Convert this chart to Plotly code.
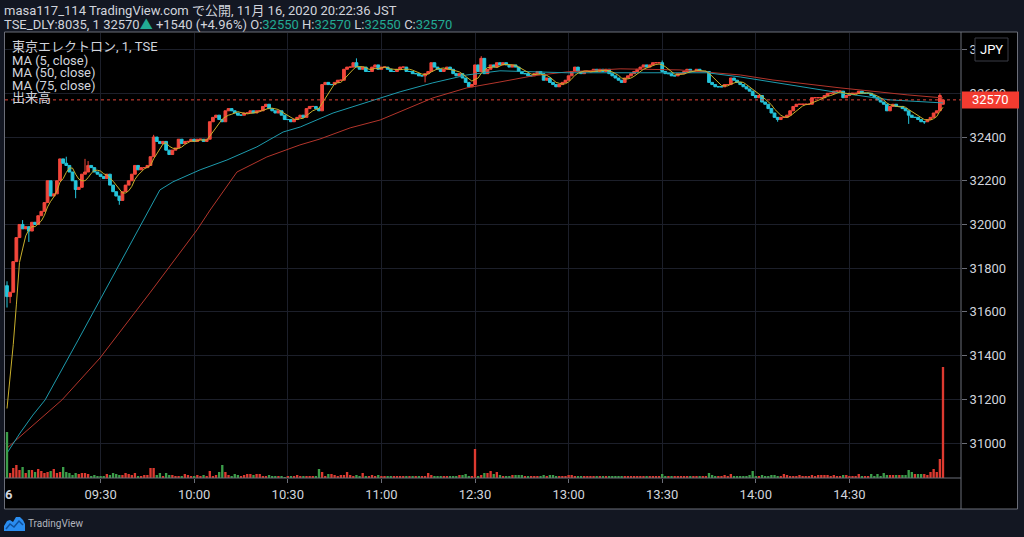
import plotly.graph_objects as go
import pandas as pd

# ---------------- data ----------------
prev_close = 31030          # previous day close (32570 - 1540)
first_open = 31720
last_open = 32550

closes_am = [  # 09:00 - 11:29
    31670, 31690, 31830, 31940, 32000, 31980, 31990, 31970, 32010, 32000,
    32040, 32060, 32100, 32200, 32130, 32140, 32200, 32300, 32280, 32270,
    32240, 32200, 32160, 32170, 32230, 32240, 32270, 32260, 32240, 32230,
    32220, 32210, 32230, 32180, 32150, 32130, 32110, 32150, 32180, 32200,
    32230, 32270, 32250, 32260, 32260, 32270, 32310, 32400, 32380, 32370,
    32380, 32340, 32320, 32340, 32350, 32390, 32370, 32380, 32380, 32390,
    32380, 32390, 32390, 32380, 32390, 32470, 32490, 32500, 32480, 32470,
    32520, 32530, 32520, 32510, 32500, 32500, 32510, 32510, 32520, 32510,
    32520, 32520, 32540, 32550, 32530, 32520, 32510, 32520, 32500, 32480,
    32480, 32470, 32480, 32490, 32500, 32490, 32530, 32540, 32540, 32530,
    32520, 32640, 32650, 32640, 32640, 32650, 32660, 32660, 32710, 32720,
    32720, 32740, 32720, 32710, 32720, 32700, 32700, 32720, 32730, 32710,
    32720, 32720, 32710, 32700, 32700, 32710, 32720, 32720, 32700, 32700,
    32690, 32690, 32680, 32680, 32690, 32700, 32740, 32720, 32710, 32700,
    32710, 32720, 32710, 32690, 32680, 32690, 32670, 32650, 32630, 32640,
]
closes_pm = [  # 12:30 - 15:00
    32730, 32700, 32760, 32690, 32710, 32730, 32720, 32740, 32730, 32740,
    32730, 32720, 32730, 32720, 32700, 32690, 32690, 32680, 32680, 32690,
    32700, 32690, 32660, 32670, 32650, 32640, 32630, 32640, 32650, 32660,
    32680, 32700, 32720, 32700, 32690, 32700, 32700, 32700, 32710, 32700,
    32710, 32700, 32710, 32690, 32680, 32670, 32660, 32650, 32670, 32680,
    32690, 32700, 32710, 32720, 32730, 32720, 32730, 32740, 32740, 32740,
    32700, 32690, 32690, 32680, 32680, 32690, 32690, 32700, 32710, 32700,
    32700, 32710, 32700, 32700, 32700, 32650, 32640, 32630, 32630, 32630,
    32640, 32640, 32670, 32660, 32650, 32640, 32630, 32620, 32610, 32590,
    32580, 32590, 32560, 32550, 32530, 32510, 32490, 32480, 32490, 32490,
    32500, 32520, 32540, 32550, 32550, 32550, 32550, 32550, 32580, 32580,
    32580, 32580, 32590, 32600, 32600, 32610, 32610, 32610, 32580, 32590,
    32600, 32600, 32600, 32610, 32600, 32600, 32600, 32590, 32580, 32570,
    32560, 32550, 32520, 32540, 32550, 32540, 32540, 32530, 32520, 32500,
    32490, 32490, 32480, 32470, 32470, 32480, 32490, 32510, 32520, 32590,
    32570,
]
wick_highs = {0: 31740, 5: 32020, 19: 32310, 25: 32300, 26: 32290, 47: 32410,
              112: 32760, 152: 32770, 210: 32750, 299: 32600}
wick_lows = {0: 31620, 1: 31640, 7: 31920, 22: 32120, 36: 32090, 134: 32650,
             247: 32470, 289: 32460, 294: 32460}

volume = [  # thousand shares
    46, 5, 10, 13, 8, 11, 5, 8, 8, 6, 9, 7, 5, 6, 7, 9, 5, 6, 11, 6,
    5, 3, 5, 4, 5, 5, 4, 2, 3, 2, 2, 2, 4, 3, 5, 4, 3, 3, 5, 4,
    3, 5, 2, 2, 3, 3, 10, 10, 3, 5, 2, 5, 3, 3, 2, 2, 2, 4, 3, 2,
    2, 3, 2, 3, 2, 7, 2, 3, 6, 13, 6, 3, 2, 4, 3, 2, 3, 4, 4, 3,
    4, 4, 2, 2, 3, 2, 2, 2, 2, 1, 2, 2, 2, 3, 2, 2, 2, 2, 2, 2,
    9, 6, 2, 4, 4, 3, 2, 3, 3, 6, 3, 2, 3, 2, 5, 2, 2, 3, 2, 3,
    2, 2, 2, 2, 2, 2, 2, 2, 2, 2, 2, 2, 2, 2, 2, 5, 3, 2, 2, 2,
    2, 2, 2, 2, 2, 3, 3, 4, 2, 2,
    29, 2, 3, 5, 5, 7, 4, 6, 3, 2, 2, 2, 3, 3, 3, 3, 2, 2, 2, 2,
    2, 2, 3, 2, 3, 3, 2, 2, 2, 2, 3, 3, 2, 2, 2, 2, 2, 2, 2, 2,
    2, 2, 2, 2, 2, 2, 2, 2, 2, 2, 2, 2, 2, 2, 2, 2, 2, 2, 2, 2,
    4, 2, 2, 2, 2, 2, 2, 2, 2, 2, 2, 2, 2, 2, 2, 5, 3, 2, 2, 2,
    3, 2, 4, 2, 2, 2, 2, 2, 3, 7, 2, 2, 3, 2, 2, 3, 3, 2, 2, 4,
    3, 2, 2, 2, 3, 2, 2, 2, 3, 2, 3, 3, 3, 3, 2, 3, 2, 2, 3, 3,
    2, 2, 2, 4, 2, 2, 2, 4, 2, 4, 2, 5, 3, 3, 3, 3, 3, 3, 3, 8,
    6, 4, 4, 4, 4, 3, 6, 9, 6, 19, 111,
]

ma50_idx = [0, 4.2, 8.3, 12.2, 22.8, 33, 42, 45.8, 49, 53.2, 61.9, 70.5, 80.1,
            88.5, 94, 104.5, 115.4, 126, 136.5, 147.4, 158, 168.6, 179.5, 203,
            224.4, 235, 251, 267, 283, 300]
ma50_val = [30954, 31046, 31128, 31197, 31471, 31737, 31975, 32076, 32158, 32195,
            32250, 32295, 32355, 32423, 32446, 32510, 32561, 32607, 32648, 32684,
            32703, 32698, 32694, 32694, 32694, 32675, 32639, 32602, 32570, 32556]
ma75_idx = [0, 17.6, 29.8, 45.8, 60.9, 65.1, 73.7, 83.3, 93.9, 100.3, 110, 119.6,
            136.5, 147.4, 158, 168.6, 179.5, 196.5, 215.7, 235, 245.5, 267, 288.5, 300]
ma75_val = [30977, 31197, 31389, 31687, 31975, 32066, 32240, 32309, 32364, 32391,
            32442, 32478, 32579, 32625, 32652, 32680, 32698, 32712, 32707, 32684,
            32661, 32625, 32593, 32579]

time_tick_idx = [30, 60, 90, 120, 150, 180, 210, 240, 270]
time_tick_text = ["09:30", "10:00", "10:30", "11:00", "12:30", "13:00", "13:30", "14:00", "14:30"]
price_ticks = [31000, 31200, 31400, 31600, 31800, 32000, 32200, 32400, 32600, 32800]

# ---------------- derived ----------------
closes = closes_am + closes_pm
n = len(closes)
idx = list(range(n))
opens = [first_open] + closes[:-1]
opens[-1] = last_open
highs = [max(o, c) for o, c in zip(opens, closes)]
lows = [min(o, c) for o, c in zip(opens, closes)]
for k, v in wick_highs.items():
    highs[k] = v
for k, v in wick_lows.items():
    lows[k] = v
ma5 = pd.Series([prev_close] * 4 + closes).rolling(5).mean().iloc[4:].tolist()

UP = "#f2463b"
DOWN = "#25c4da"
VUP = "#dd3a30"
VDN = "#3c9e4a"
vol_colors = [VUP if c >= o else VDN for o, c in zip(opens, closes)]

FONT = "Roboto, 'Noto Sans CJK JP', sans-serif"
TXT = "#d1d4dc"
GRID = "#1c1f2a"
FRAME = "#6b6e78"

# pixel geometry
L, R, T, B = 5, 961, 33, 478
def px(x):
    return (x - L) / (R - L)
def py(y):
    return (B - y) / (B - T)

Y_RANGE = [30840, 32876]
X_RANGE = [-0.641, 305.77]
yper = (Y_RANGE[1] - Y_RANGE[0]) / (B - T)

fig = go.Figure()

fig.add_trace(go.Bar(
    x=idx, y=volume, marker=dict(color=vol_colors, line=dict(width=0)),
    width=0.75, yaxis="y2", hoverinfo="skip", showlegend=False))

fig.add_trace(go.Scatter(x=ma75_idx, y=ma75_val, mode="lines",
                         line=dict(color="#b3352b", width=1), showlegend=False, hoverinfo="skip"))
fig.add_trace(go.Scatter(x=ma50_idx, y=ma50_val, mode="lines",
                         line=dict(color="#1d9bad", width=1), showlegend=False, hoverinfo="skip"))

fig.add_trace(go.Candlestick(
    x=idx, open=opens, high=highs, low=lows, close=closes,
    increasing=dict(line=dict(color=UP, width=1), fillcolor=UP),
    decreasing=dict(line=dict(color=DOWN, width=1), fillcolor=DOWN),
    whiskerwidth=0, showlegend=False, hoverinfo="skip"))

fig.add_trace(go.Scatter(x=idx, y=ma5, mode="lines",
                         line=dict(color="#c9b02c", width=1), showlegend=False, hoverinfo="skip"))

shapes = []
# black chart frame background
shapes.append(dict(type="rect", xref="paper", yref="paper", x0=px(4), x1=px(1018),
                   y0=py(509), y1=py(32), fillcolor="#000000", line=dict(width=0), layer="below"))
# frame lines
for (x0, y0, x1, y1) in [(4.5, 32, 4.5, 509), (4.5, 509, 1017.5, 509), (1017.5, 32, 1017.5, 509),
                         (4.5, 32, 1017.5, 32), (961, 32, 961, 509), (4.5, 478, 961, 478)]:
    shapes.append(dict(type="line", xref="paper", yref="paper", x0=px(x0), x1=px(x1),
                       y0=py(y0), y1=py(y1), line=dict(color=FRAME, width=1), layer="above"))
# last price dotted line
last = closes[-1]
shapes.append(dict(type="line", xref="paper", yref="y", x0=0, x1=1, y0=last, y1=last,
                   line=dict(color="#e0453a", width=1, dash="dot"), layer="above"))
# last price label box
shapes.append(dict(type="rect", xref="paper", yref="y", x0=px(962), x1=px(1019),
                   y0=last - 8.5 * yper, y1=last + 8.5 * yper,
                   fillcolor="#f23b30", line=dict(width=0), layer="above"))
# JPY button
shapes.append(dict(type="rect", xref="paper", yref="paper", x0=px(975), x1=px(1008),
                   y0=py(61), y1=py(38), fillcolor="#000000",
                   line=dict(color="#3a3d47", width=1), layer="above"))
# TradingView logo
def path(pts):
    s = "M " + " L ".join(f"{px(a):.5f},{py(b):.5f}" for a, b in pts) + " Z"
    return s
shapes.append(dict(type="path", xref="paper", yref="paper",
                   path=path([(4, 531), (4, 526), (7, 521), (10, 520), (13, 522), (16, 517),
                              (20, 517), (23, 520), (25, 524), (25, 531)]),
                   fillcolor="#2a8df0", line=dict(width=0), layer="above"))
shapes.append(dict(type="path", xref="paper", yref="paper",
                   path="M " + " L ".join(f"{px(a):.5f},{py(b):.5f}" for a, b in
                                          [(6, 529), (10, 524), (14, 527), (19, 521), (23, 525)]),
                   line=dict(color="#0f4f9a", width=1.5), layer="above"))

ann = []
def text(x, y, s, size=13, color=TXT, xanchor="left"):
    ann.append(dict(x=px(x), y=py(y), xref="paper", yref="paper", text=s, showarrow=False,
                    xanchor=xanchor, yanchor="middle", font=dict(family=FONT, size=size, color=color)))

TEAL = "#22ab94"
text(2, 11, "masa117_114 TradingView.com で公開, 11月 16, 2020 20:22:36 JST", size=13)
text(2, 25, f"TSE_DLY:8035, 1 32570<span style='color:{TEAL}'>▲</span> +1540 (+4.96%) "
            f"O:<span style='color:{TEAL}'>32550</span> H:<span style='color:{TEAL}'>32570</span> "
            f"L:<span style='color:{TEAL}'>32550</span> C:<span style='color:{TEAL}'>32570</span>", size=13)
for yy, s in [(47, "東京エレクトロン, 1, TSE"), (60, "MA (5, close)"), (72, "MA (50, close)"),
              (85, "MA (75, close)"), (97, "出来高")]:
    text(10, yy, s, size=13)
text(9, 494, "<b>6</b>", size=13, xanchor="center")
text(990.5, 99.5, f"{last}", size=13, color="#ffffff", xanchor="center")
text(991.5, 49.5, "JPY", size=13, color="#ffffff", xanchor="center")
text(26, 523, "TradingView", size=10, color="#b2b5be")

fig.update_layout(
    width=1024, height=537,
    margin=dict(l=L, r=1024 - R, t=T, b=537 - B),
    paper_bgcolor="#131722", plot_bgcolor="#000000",
    boxgap=0.12, boxgroupgap=0,
    showlegend=False,
    shapes=shapes, annotations=ann,
    xaxis=dict(range=X_RANGE, tickvals=time_tick_idx, ticktext=time_tick_text,
               showgrid=True, gridcolor=GRID, gridwidth=1, zeroline=False,
               ticks="outside", ticklen=4, tickcolor=FRAME, showline=False,
               tickfont=dict(family=FONT, size=13, color=TXT),
               rangeslider=dict(visible=False), fixedrange=True),
    yaxis=dict(range=Y_RANGE, side="right", tickvals=price_ticks,
               ticktext=[str(v) for v in price_ticks],
               showgrid=True, gridcolor=GRID, gridwidth=1, zeroline=False,
               ticks="outside", ticklen=5, tickcolor=FRAME, showline=False,
               tickfont=dict(family=FONT, size=13, color=TXT), fixedrange=True),
    yaxis2=dict(overlaying="y", range=[0, max(volume) * (B - T) / 111.0], visible=False,
                fixedrange=True),
)

fig.write_html("out.html", config={"displayModeBar": False},
               post_script="document.body.style.margin='0';document.body.style.background='#131722';")
